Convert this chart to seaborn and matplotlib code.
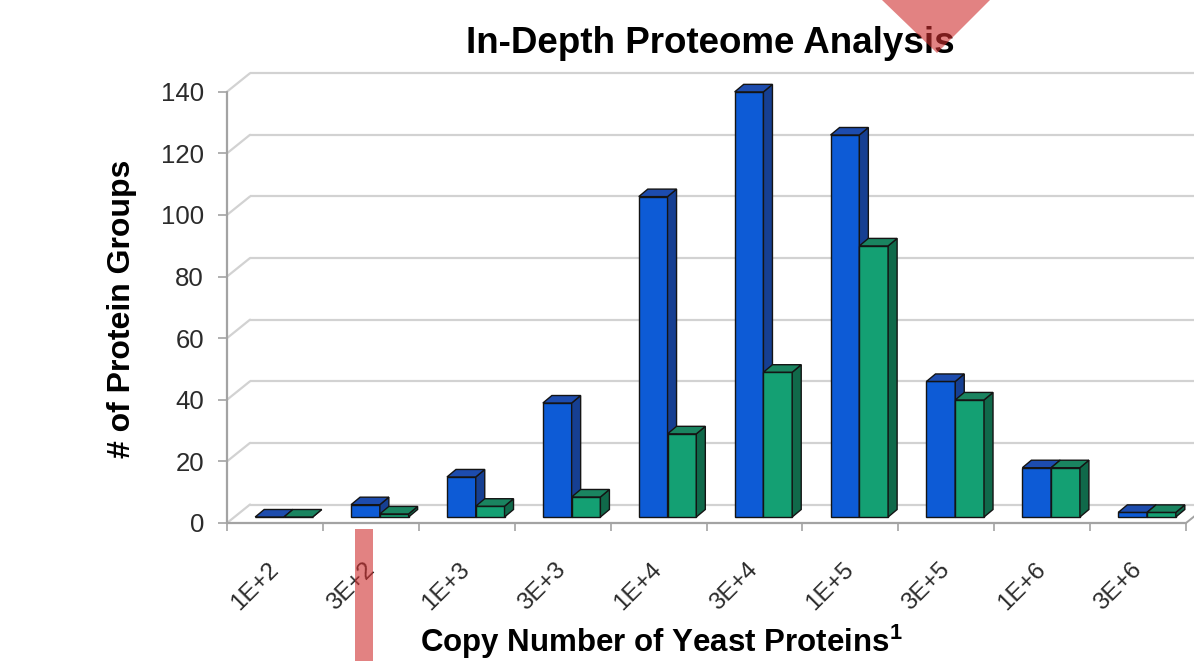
import matplotlib
matplotlib.use("Agg")
import matplotlib.pyplot as plt
import seaborn as sns
import pandas as pd
import numpy as np
from matplotlib.patches import Polygon

# ---- data ----
categories = ["1E+2", "3E+2", "1E+3", "3E+3", "1E+4", "3E+4", "1E+5", "3E+5", "1E+6", "3E+6"]
series_a = [0, 4, 13, 37, 104, 138, 124, 44, 16, 1.5]
series_b = [0, 1, 3.5, 6.5, 27, 47, 88, 38, 16, 1.5]
y_ticks = [0, 20, 40, 60, 80, 100, 120, 140]
title = "In-Depth Proteome Analysis"
x_label = r"Copy Number of Yeast Proteins$^{\mathbf{1}}$"
y_label = "# of Protein Groups"

# ---- style ----
sns.set_theme(style="white")
plt.rcParams["font.family"] = ["Liberation Sans", "DejaVu Sans"]
plt.rcParams["mathtext.fontset"] = "custom"
plt.rcParams["mathtext.rm"] = "Liberation Sans"
plt.rcParams["mathtext.bf"] = "Liberation Sans:bold"

blue_front, blue_top, blue_side = "#0d5bd6", "#1d4cae", "#163f92"
green_front, green_top, green_side = "#14a073", "#1a8460", "#10694a"
edge = "#141414"
grid_c = "#d2d2d2"
axis_c = "#a3a3a3"

W, H = 1194, 661
left_px, right_px = 227, 1186
y0_px, ytop_px = 523, 91.7

fig = plt.figure(figsize=(W / 100, H / 100), dpi=100)
fig.patch.set_facecolor("white")
ax = fig.add_axes([left_px / W, (H - y0_px) / H,
                   (right_px - left_px) / W, (y0_px - ytop_px) / H])

df = pd.DataFrame({
    "cat": categories * 2,
    "count": series_a + series_b,
    "series": ["A"] * len(categories) + ["B"] * len(categories),
})
sns.barplot(data=df, x="cat", y="count", hue="series",
            palette=[blue_front, green_front], width=0.6, saturation=1,
            edgecolor=edge, linewidth=1.0, legend=False, ax=ax)

ax.set_xlim(-0.5, len(categories) - 0.5)
ax.set_ylim(0, 140)
for s in ax.spines.values():
    s.set_visible(False)
ax.set_facecolor("none")

# pixel -> data conversions
px_x = (right_px - left_px) / len(categories)
px_y = (y0_px - ytop_px) / 140.0
shift_x, shift_y = 9 / px_x, 6 / px_y        # bars sit mid-depth on the floor
dep_x, dep_y = 9 / px_x, 7.5 / px_y          # bar depth
wall_x, wall_y = 23 / px_x, 18.5 / px_y      # wall depth

xmin, xmax = -0.5, len(categories) - 0.5

# back wall gridlines + left wall diagonals
for v in y_ticks:
    ax.plot([xmin + wall_x, xmax + 3], [v + wall_y] * 2, color=grid_c, lw=1.6,
            clip_on=False, zorder=0.5, solid_capstyle="butt")
    ax.plot([xmin, xmin + wall_x], [v, v + wall_y], color=grid_c, lw=1.6,
            clip_on=False, zorder=0.5)
# floor
ax.plot([xmax, xmax + wall_x], [0, wall_y], color=axis_c, lw=1.4, clip_on=False, zorder=0.6)
ax.plot([xmin, xmax], [0, 0], color=axis_c, lw=1.6, clip_on=False, zorder=0.7)
ax.plot([xmin, xmin], [0, 140], color=axis_c, lw=1.6, clip_on=False, zorder=0.7)

# 3D faces on each bar
n = len(categories)
for i, p in enumerate(list(ax.patches)):
    is_a = i < n
    top_c = blue_top if is_a else green_top
    side_c = blue_side if is_a else green_side
    z = 2 if is_a else 3
    x = p.get_x() + shift_x
    w = p.get_width()
    h = p.get_height()
    p.set_x(x)
    p.set_y(shift_y)
    p.set_zorder(z)
    p.set_clip_on(False)
    b = shift_y
    side = Polygon([(x + w, b), (x + w, b + h), (x + w + dep_x, b + h + dep_y),
                    (x + w + dep_x, b + dep_y)], closed=True, facecolor=side_c,
                   edgecolor=edge, lw=1.0, zorder=z, clip_on=False)
    top = Polygon([(x, b + h), (x + w, b + h), (x + w + dep_x, b + h + dep_y),
                   (x + dep_x, b + h + dep_y)], closed=True, facecolor=top_c,
                  edgecolor=edge, lw=1.0, zorder=z + 0.1, clip_on=False)
    ax.add_patch(side)
    ax.add_patch(top)

# ticks
ax.set_yticks(y_ticks)
ax.set_yticklabels([str(v) for v in y_ticks])
ax.tick_params(axis="y", left=True, length=6.5, width=1.2, color=axis_c, pad=10,
               labelsize=18.5, labelcolor="#2b2b2b")
ax.set_xticks(range(n))
ax.set_xticklabels(categories)
ax.set_xticks(np.arange(-0.5, n, 1.0), minor=True)
ax.tick_params(axis="x", which="major", length=0, pad=31, labelsize=17.5,
               labelcolor="#2b2b2b")
ax.tick_params(axis="x", which="minor", bottom=True, length=5.5, width=1.2, color=axis_c)
for lab in ax.get_xticklabels():
    lab.set_rotation(45)
    lab.set_ha("right")
    lab.set_va("center")
    lab.set_rotation_mode("anchor")

# labels and title
ax.set_xlabel(x_label, fontsize=22.5, fontweight="bold", color="black")
ax.xaxis.set_label_coords((661 - left_px) / (right_px - left_px),
                          -(652 - y0_px) / (y0_px - ytop_px))
ax.xaxis.label.set_va("baseline")
ax.set_ylabel(y_label, fontsize=23, fontweight="bold", color="black")
ax.yaxis.set_label_coords((122 - left_px) / (right_px - left_px),
                          (y0_px - 309) / (y0_px - ytop_px))
ax.yaxis.label.set_va("center")
ax.set_title(title, fontsize=26.5, fontweight="bold", color="black", pad=0,
             x=(710 - left_px) / (right_px - left_px),
             y=(y0_px - 53) / (y0_px - ytop_px), va="baseline")

# pink overlay marks
tri = Polygon([(882 / W, 1), (990 / W, 1), (937 / W, 1 - 53 / H)], closed=True,
              transform=fig.transFigure, facecolor="#cf2f2f", alpha=0.6,
              edgecolor="none", zorder=10)
bar = Polygon([(355 / W, 0), (373 / W, 0), (373 / W, 1 - 529 / H), (355 / W, 1 - 529 / H)],
              closed=True, transform=fig.transFigure, facecolor="#cf2f2f", alpha=0.6,
              edgecolor="none", zorder=10)
fig.patches.extend([tri, bar])

fig.savefig("out.png", dpi=100, facecolor="white")
